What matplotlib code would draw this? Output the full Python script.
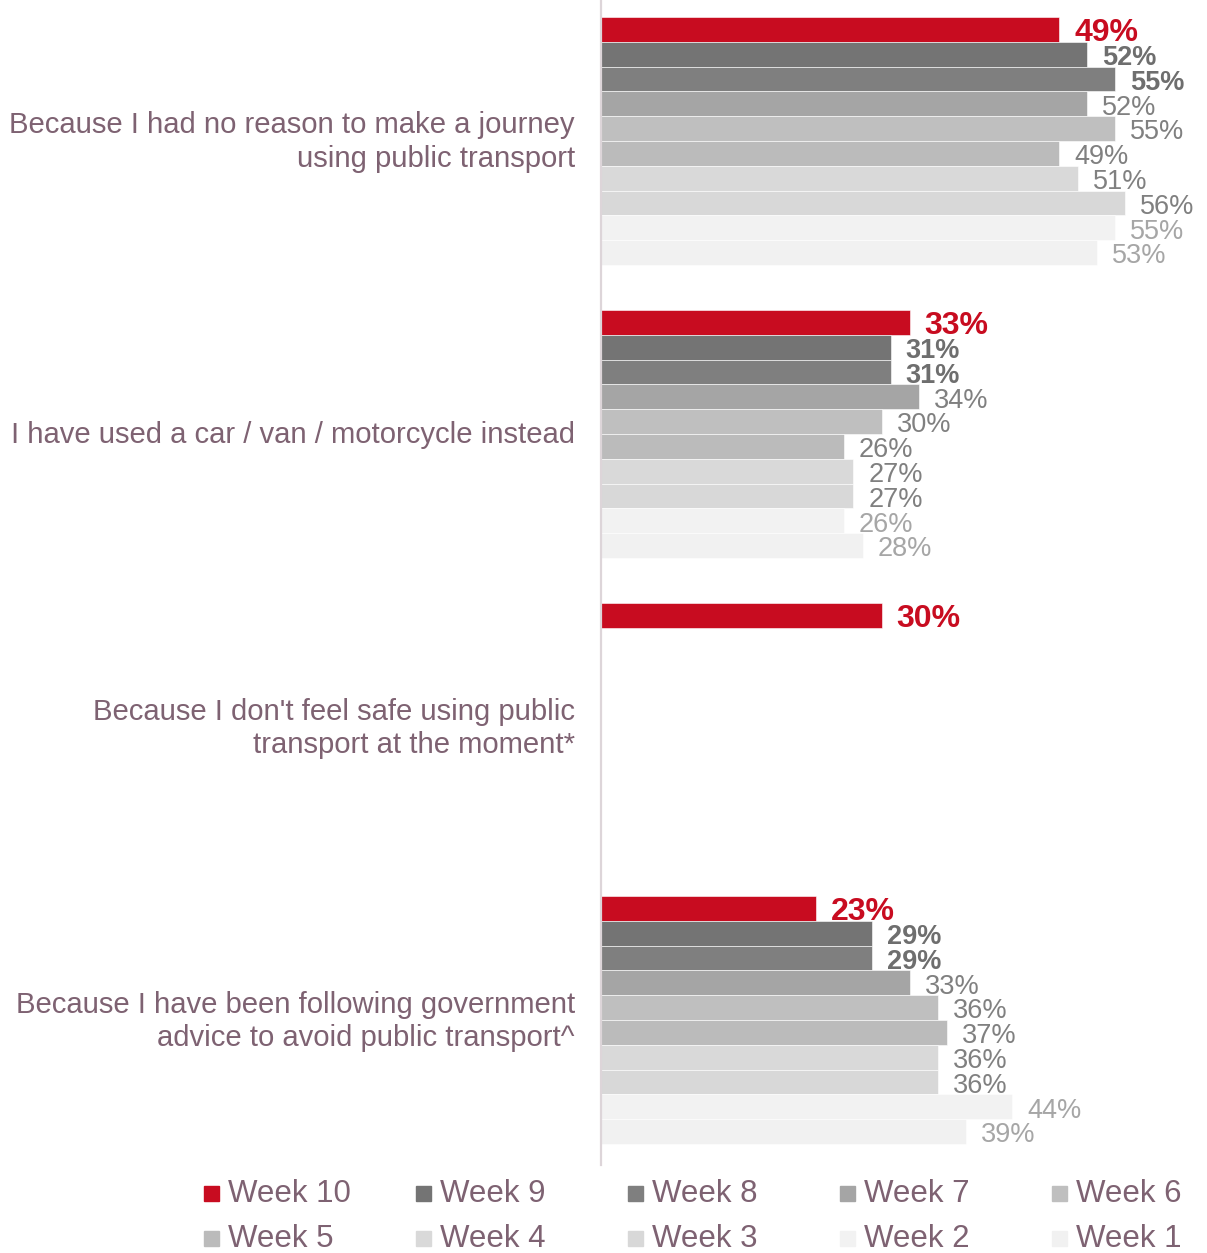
import matplotlib
matplotlib.use("Agg")
import matplotlib.pyplot as plt
from matplotlib.patches import Rectangle

plt.rcParams["font.family"] = ["Liberation Sans", "DejaVu Sans"]

categories = [
    "Because I had no reason to make a journey\nusing public transport",
    "I have used a car / van / motorcycle instead",
    "Because I don't feel safe using public\ntransport at the moment*",
    "Because I have been following government\nadvice to avoid public transport^",
]
weeks = ["Week 10", "Week 9", "Week 8", "Week 7", "Week 6",
         "Week 5", "Week 4", "Week 3", "Week 2", "Week 1"]

# one row per category, one value per week (Week 10 first); None = not asked
no_reason = [49, 52, 55, 52, 55, 49, 51, 56, 55, 53]
used_car = [33, 31, 31, 34, 30, 26, 27, 27, 26, 28]
not_safe = [30, None, None, None, None, None, None, None, None, None]
gov_advice = [23, 29, 29, 33, 36, 37, 36, 36, 44, 39]
values = [no_reason, used_car, not_safe, gov_advice]

bar_colors = ["#C80C20", "#747474", "#7F7F7F", "#A5A5A5", "#BFBFBF",
              "#BBBBBB", "#D9D9D9", "#D8D8D8", "#F2F2F2", "#F1F1F1"]
label_colors = ["#C80C20", "#6E6E6E", "#6E6E6E", "#808080", "#808080",
                "#808080", "#808080", "#808080", "#A6A6A6", "#A6A6A6"]
TEXT = "#7E6272"

W, H = 1207, 1253
fig = plt.figure(figsize=(W / 100, H / 100), dpi=100)
ax = fig.add_axes([601 / W, (H - 1165) / H, 561 / W, 1165 / H])

slot = 11.815  # bar units per category (10 bars + gap)
for i, row in enumerate(values):
    for j, v in enumerate(row):
        if v is None:
            continue
        y = i * slot + j + 0.5
        ax.barh(y, v, height=1.0, color=bar_colors[j],
                edgecolor="white", linewidth=0.4)
        if j == 0:
            kw = dict(fontsize=23, fontweight="bold")
        elif j in (1, 2):
            kw = dict(fontsize=19.5, fontweight="bold")
        else:
            kw = dict(fontsize=19.5)
        ax.text(v + 1.6, y + 0.15, f"{v}%", ha="left", va="center",
                color=label_colors[j], clip_on=False, **kw)
    ax.text(-2.8, i * slot + 5.05, categories[i], ha="right", va="center",
            fontsize=21.1, color=TEXT, linespacing=1.25)

ax.set_xlim(0, 60)
ax.set_ylim((1165 - 17) / 24.8, -17 / 24.8)
for s in ("top", "right", "bottom"):
    ax.spines[s].set_visible(False)
ax.spines["left"].set_color("#DDD5D9")
ax.spines["left"].set_linewidth(1.6)
ax.set_xticks([])
ax.set_yticks([])

# legend: 2 rows x 5 columns
for k, name in enumerate(weeks):
    col, r = k % 5, k // 5
    x0 = 204 + col * 212
    yc = 1193 + r * 45
    fig.add_artist(Rectangle((x0 / W, 1 - (yc + 7.5) / H), 15 / W, 15 / H,
                             transform=fig.transFigure, color=bar_colors[k]))
    fig.text((x0 + 24) / W, 1 - (yc + 1) / H, name, ha="left", va="center",
             fontsize=22.5, color=TEXT)

fig.savefig("out.png", dpi=100)
